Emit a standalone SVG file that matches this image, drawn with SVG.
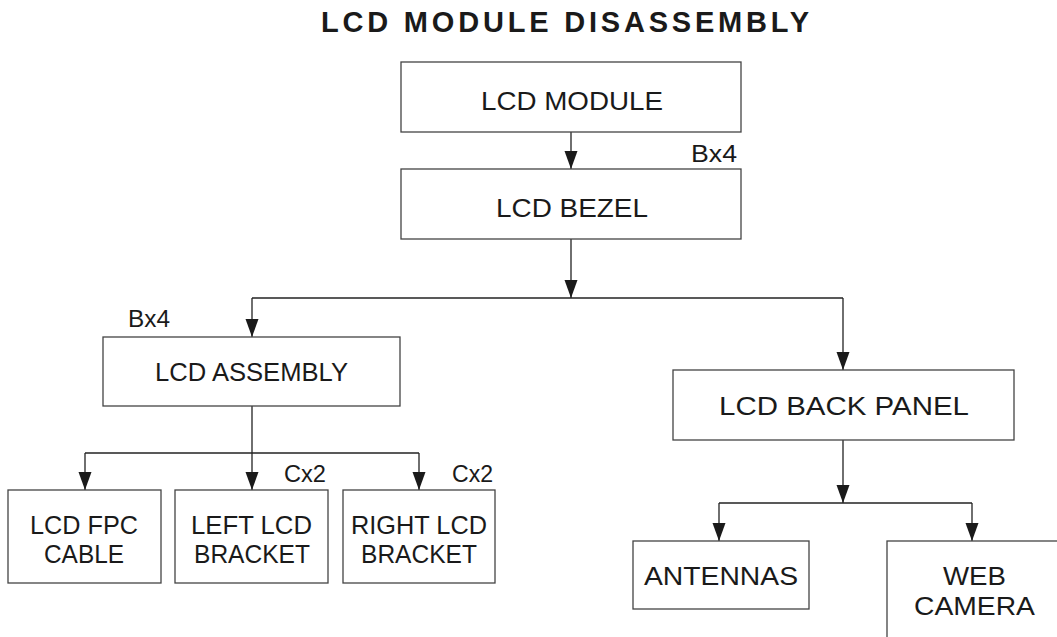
<svg xmlns="http://www.w3.org/2000/svg" width="1057" height="637" viewBox="0 0 1057 637">
<defs>
<marker id="arr" markerUnits="userSpaceOnUse" markerWidth="18" markerHeight="14" refX="18" refY="6.5" orient="auto">
<path d="M0,0 L18,6.5 L0,13 z" fill="#1a1a1a"/>
</marker>
<style>
.box{fill:#fff;stroke:#444;stroke-width:1.3}
.t{font-family:"Liberation Sans",Arial,sans-serif;font-size:25.5px;fill:#1a1a1a}
.s{font-family:"Liberation Sans",Arial,sans-serif;font-size:23px;fill:#1a1a1a}
.title{font-family:"Liberation Sans",Arial,sans-serif;font-size:29px;font-weight:bold;letter-spacing:3.8px;fill:#1a1a1a}
.c{fill:none;stroke:#222;stroke-width:1.3}
</style>
</defs>
<rect width="1057" height="637" fill="#fff"/>
<text class="title" x="321" y="32">LCD MODULE DISASSEMBLY</text>
<g id="connectors">
<path class="c" d="M571,132 V169" marker-end="url(#arr)"/>
<path class="c" d="M571,239 V298" marker-end="url(#arr)"/>
<path class="c" d="M252,298 H843"/>
<path class="c" d="M252,298 V337" marker-end="url(#arr)"/>
<path class="c" d="M843,298 V370" marker-end="url(#arr)"/>
<path class="c" d="M252,406 V490" marker-end="url(#arr)"/>
<path class="c" d="M85,453 H419"/>
<path class="c" d="M85,453 V490" marker-end="url(#arr)"/>
<path class="c" d="M419,453 V490" marker-end="url(#arr)"/>
<path class="c" d="M843,440 V503" marker-end="url(#arr)"/>
<path class="c" d="M719,503 H972"/>
<path class="c" d="M719,503 V541" marker-end="url(#arr)"/>
<path class="c" d="M972,503 V541" marker-end="url(#arr)"/>
</g>
<g id="lcd-module">
<rect class="box" x="401" y="62" width="340" height="70"/>
<text class="t" x="481" y="110" textLength="182" lengthAdjust="spacingAndGlyphs">LCD MODULE</text>
</g>
<g id="lcd-bezel">
<rect class="box" x="401" y="169" width="340" height="70"/>
<text class="t" x="496" y="217" textLength="152" lengthAdjust="spacingAndGlyphs">LCD BEZEL</text>
<text class="s" x="691" y="162" textLength="46" lengthAdjust="spacingAndGlyphs">Bx4</text>
</g>
<g id="lcd-assembly">
<rect class="box" x="103" y="337" width="297" height="69"/>
<text class="t" x="155" y="381" textLength="193" lengthAdjust="spacingAndGlyphs">LCD ASSEMBLY</text>
<text class="s" x="128" y="327" textLength="42" lengthAdjust="spacingAndGlyphs">Bx4</text>
</g>
<g id="lcd-fpc-cable">
<rect class="box" x="8" y="490" width="153" height="93"/>
<text class="t" x="30" y="534" textLength="108" lengthAdjust="spacingAndGlyphs">LCD FPC</text>
<text class="t" x="44" y="563" textLength="80" lengthAdjust="spacingAndGlyphs">CABLE</text>
</g>
<g id="left-lcd-bracket">
<rect class="box" x="175" y="490" width="153" height="93"/>
<text class="t" x="191" y="534" textLength="121" lengthAdjust="spacingAndGlyphs">LEFT LCD</text>
<text class="t" x="194" y="563" textLength="116" lengthAdjust="spacingAndGlyphs">BRACKET</text>
<text class="s" x="284" y="482" textLength="42" lengthAdjust="spacingAndGlyphs">Cx2</text>
</g>
<g id="right-lcd-bracket">
<rect class="box" x="343" y="490" width="152" height="93"/>
<text class="t" x="351" y="534" textLength="136" lengthAdjust="spacingAndGlyphs">RIGHT LCD</text>
<text class="t" x="361" y="563" textLength="116" lengthAdjust="spacingAndGlyphs">BRACKET</text>
<text class="s" x="452" y="482" textLength="41" lengthAdjust="spacingAndGlyphs">Cx2</text>
</g>
<g id="lcd-back-panel">
<rect class="box" x="673" y="370" width="341" height="70"/>
<text class="t" x="719" y="415" textLength="250" lengthAdjust="spacingAndGlyphs">LCD BACK PANEL</text>
</g>
<g id="antennas">
<rect class="box" x="633" y="541" width="176" height="68"/>
<text class="t" x="644" y="585" textLength="154" lengthAdjust="spacingAndGlyphs">ANTENNAS</text>
</g>
<g id="web-camera">
<rect class="box" x="887" y="541" width="200" height="120"/>
<text class="t" x="943" y="585" textLength="63" lengthAdjust="spacingAndGlyphs">WEB</text>
<text class="t" x="914" y="615" textLength="121" lengthAdjust="spacingAndGlyphs">CAMERA</text>
</g>
</svg>
